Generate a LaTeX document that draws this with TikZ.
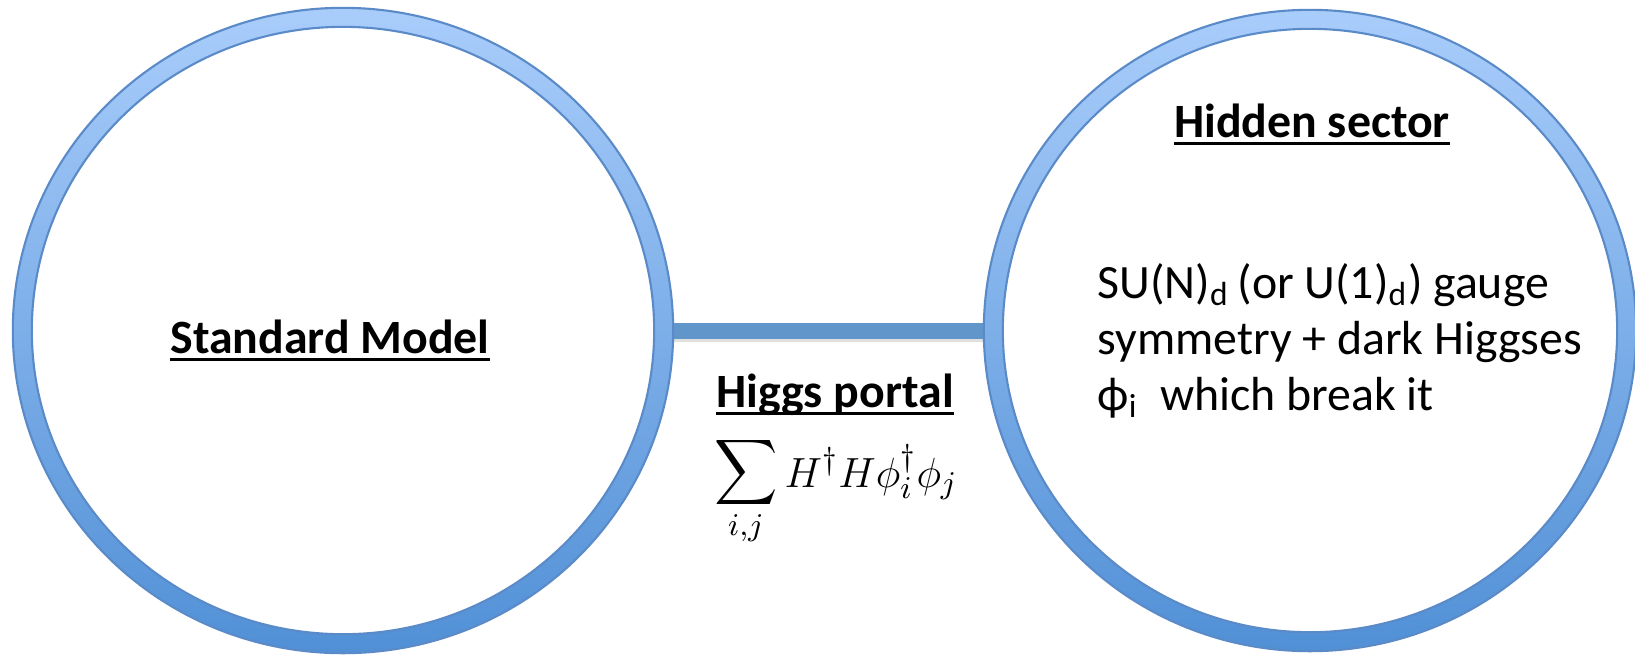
\documentclass[tikz,border=0pt]{standalone}
\usepackage{fontspec}
\setmainfont{Carlito}
\usepackage{graphicx}
\usepackage{tikz}
\usetikzlibrary{positioning,shapes.geometric}
\definecolor{ringtop}{HTML}{A9CDFB}
\definecolor{ringbot}{HTML}{5190D6}
\definecolor{ringedge}{HTML}{5A8BC8}
\definecolor{barblue}{HTML}{6196CA}

% bold heading with a thick underline
\newcommand{\ulhead}[1]{\leavevmode\setbox0\hbox{\bfseries #1}\rlap{\rule[-0.17em]{\wd0}{0.065em}}\box0}
% a larger summation sign, limits below
\newcommand{\bigsum}{\mathop{\raisebox{1.1pt}{$\vcenter{\hbox{\scalebox{1.25}[1.3]{$\displaystyle\sum$}}}$}}\limits}

\tikzset{
  sector/.style={ellipse, inner sep=0pt, draw=none},
  ring/.style={even odd rule, top color=ringtop, bottom color=ringbot},
  ringline/.style={draw=ringedge, line width=0.6pt},
  ringshadow/.style={even odd rule, fill=black, opacity=0.12},
  portalbar/.style={draw=barblue, line width=0.16cm},
  heading/.style={anchor=base, inner sep=0pt}
}

\begin{document}
\begin{tikzpicture}[x=0.01cm, y=-0.01cm, every node/.style={font=\fontsize{13.6}{15.9}\selectfont}]
  \useasboundingbox (0,0) rectangle (1635,656);

  % the two sectors (node outline = middle of the ring)
  \node[sector, minimum width=6.41cm, minimum height=6.26cm] (sm) at (343,330.5) {};
  \node[sector, minimum width=6.33cm, minimum height=6.22cm] (hs) at (1310,330.5) {};

  % portal bar between them
  \path[fill=black, opacity=0.12] ([yshift=-0.07cm]sm.east) rectangle ([yshift=-0.11cm]hs.west);
  \draw[portalbar] (sm) -- (hs);

  % rings
  \path[ringshadow, shift={(0,3)}] (sm.center) ellipse[x radius=3.30cm, y radius=3.225cm] (sm.center) ellipse[x radius=3.11cm, y radius=3.035cm];
  \path[ringshadow, shift={(0,3)}] (hs.center) ellipse[x radius=3.26cm, y radius=3.205cm] (hs.center) ellipse[x radius=3.07cm, y radius=3.015cm];
  \shade[ring] (sm.center) ellipse[x radius=3.30cm, y radius=3.225cm] (sm.center) ellipse[x radius=3.11cm, y radius=3.035cm];
  \shade[ring] (hs.center) ellipse[x radius=3.26cm, y radius=3.205cm] (hs.center) ellipse[x radius=3.07cm, y radius=3.015cm];
  \path[ringline] (sm.center) ellipse[x radius=3.30cm, y radius=3.225cm] (sm.center) ellipse[x radius=3.11cm, y radius=3.035cm];
  \path[ringline] (hs.center) ellipse[x radius=3.26cm, y radius=3.205cm] (hs.center) ellipse[x radius=3.07cm, y radius=3.015cm];

  % labels
  \node[heading] (smtitle) at (330,353) {\ulhead{Standard Model}};
  \node[heading] (portaltitle) at (835,407) {\ulhead{Higgs portal}};
  \node[anchor=base, inner sep=0pt, font=\fontsize{12.7}{14}\selectfont] (coupling) at (836,487)
    {$\displaystyle\bigsum_{i,j} H^\dagger H\phi_i^\dagger\phi_j$};
  \node[heading] (hstitle) at (1312,137) {\ulhead{Hidden sector}};
  \node[anchor=base west, inner sep=0pt, align=left] (hstext) at (1097,410)
    {SU(N)\textsubscript{d}\,(or U(1)\textsubscript{d}) gauge\\
     symmetry + dark Higgses\\
     ϕ\textsubscript{i}\ \ which break it};
\end{tikzpicture}
\end{document}
